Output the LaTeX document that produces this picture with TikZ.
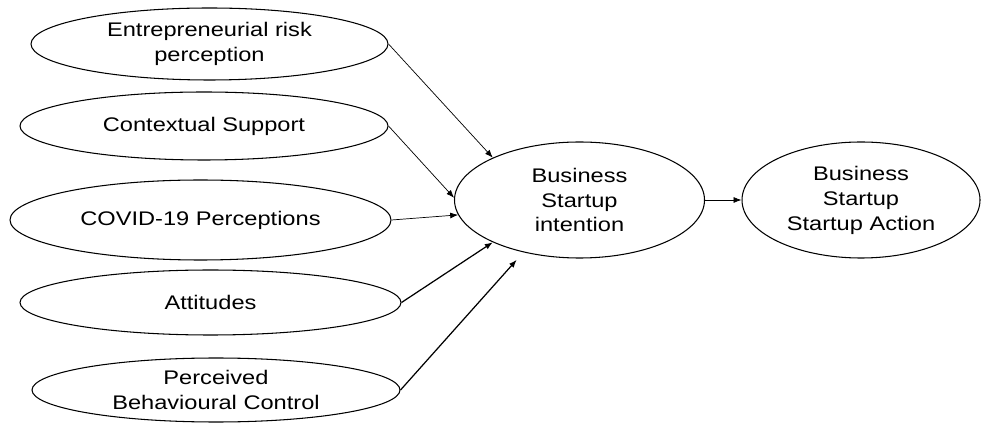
\documentclass[tikz,border=0pt]{standalone}
\usepackage{fontspec}
\setmainfont{Liberation Sans}[FakeStretch=1.2]
\usetikzlibrary{shapes.geometric,arrows.meta}

\begin{document}
\begin{tikzpicture}[
every node/.style={ellipse,draw,line width=0.6pt,inner sep=0pt,align=center,
    font=\fontsize{11.2}{14.2}\selectfont},
link/.style={-{Latex[length=4.5pt,width=3.4pt]},line width=0.4pt},
thick link/.style={link,line width=0.7pt}
]
\useasboundingbox (0,0) rectangle (19.64,8.46);

% factors on the left
\node (risk)[minimum width=7.14cm,minimum height=1.44cm] at (4.19,7.58) {Entrepreneurial risk\\perception};
\node (support)[minimum width=7.36cm,minimum height=1.36cm] at (4.08,5.94) {Contextual Support};
\node (covid)[minimum width=7.62cm,minimum height=1.60cm] at (4.01,4.06) {COVID-19 Perceptions};
\node (attitudes)[minimum width=7.62cm,minimum height=1.30cm] at (4.21,2.41) {Attitudes};
\node (pbc)[minimum width=7.36cm,minimum height=1.28cm] at (4.32,0.66) {Perceived\\Behavioural Control};

% intention and action
\node (intention)[minimum width=5.00cm,minimum height=2.32cm] at (11.59,4.46) {Business\\Startup\\intention};
\node (action)[minimum width=4.76cm,minimum height=2.32cm] at (17.22,4.46) {Business\\Startup\\Startup Action};

\draw[link] (risk.east) -- (intention.154);
\draw[link] (support.east) -- (intention.179);
\draw[link] (covid.east) -- (intention.187);
\draw[thick link] (attitudes.east) -- (intention.206);
\draw[thick link,shorten >=0.2cm] (pbc.east) -- (intention.223);
\draw[link] (intention.east) -- (action.west);

\end{tikzpicture}
\end{document}
